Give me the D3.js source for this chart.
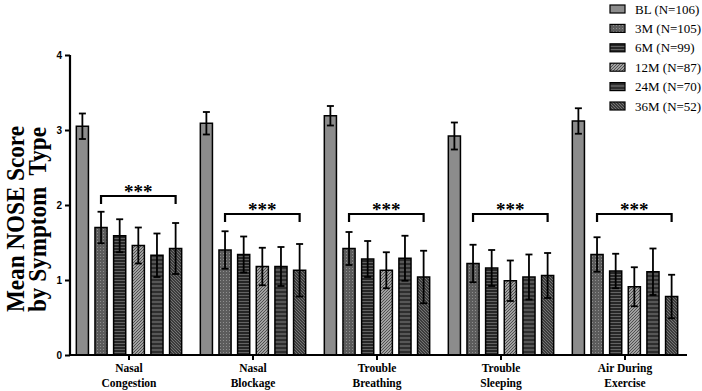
<!DOCTYPE html>
<html>
<head>
<meta charset="utf-8">
<script src="https://cdn.jsdelivr.net/npm/d3@7/dist/d3.min.js"></script>
<style>
  body { margin: 0; background: #fff; }
  svg { display: block; }
</style>
</head>
<body>
<div id="chart"></div>
<script>
// data
var symptoms = ["Nasal Congestion", "Nasal Blockage", "Trouble Breathing", "Trouble Sleeping", "Air During Exercise"];
var series   = ["BL (N=106)", "3M (N=105)", "6M (N=99)", "12M (N=87)", "24M (N=70)", "36M (N=52)"];

var bl  = [3.05, 3.09, 3.19, 2.92, 3.12];
var m3  = [1.70, 1.40, 1.42, 1.22, 1.34];
var m6  = [1.59, 1.34, 1.28, 1.16, 1.12];
var m12 = [1.46, 1.18, 1.13, 0.99, 0.91];
var m24 = [1.33, 1.18, 1.29, 1.04, 1.11];
var m36 = [1.42, 1.13, 1.04, 1.06, 0.78];

var blErr  = [0.17, 0.15, 0.13, 0.18, 0.17];
var m3Err  = [0.21, 0.25, 0.22, 0.25, 0.23];
var m6Err  = [0.22, 0.24, 0.24, 0.24, 0.23];
var m12Err = [0.24, 0.25, 0.24, 0.27, 0.26];
var m24Err = [0.29, 0.26, 0.30, 0.30, 0.31];
var m36Err = [0.34, 0.35, 0.35, 0.30, 0.29];

var bracketLevel = [2.12, 1.88, 1.88, 1.88, 1.88];
var yTicks = [0, 1, 2, 3, 4];

var means = [bl, m3, m6, m12, m24, m36];
var errs  = [blErr, m3Err, m6Err, m12Err, m24Err, m36Err];

var width  = 702;
var height = 391;

var svg = d3.select("#chart").append("svg")
    .attr("width", width)
    .attr("height", height);

// fill patterns, one per time point
var defs = svg.append("defs");
function linePattern(id, bg, fg, size, lines, sw) {
    var p = defs.append("pattern")
        .attr("id", id)
        .attr("patternUnits", "userSpaceOnUse")
        .attr("width", size).attr("height", size);
    p.append("rect").attr("width", size).attr("height", size).attr("fill", bg);
    lines.forEach(function (l) {
        p.append("line")
            .attr("x1", l[0]).attr("y1", l[1]).attr("x2", l[2]).attr("y2", l[3])
            .attr("stroke", fg).attr("stroke-width", sw);
    });
}
linePattern("p0", "#8c8c8c", "#8c8c8c", 4, [], 0);
// dots
var pd = defs.append("pattern").attr("id", "p1")
    .attr("patternUnits", "userSpaceOnUse").attr("width", 3).attr("height", 3);
pd.append("rect").attr("width", 3).attr("height", 3).attr("fill", "#5c5c5c");
pd.append("rect").attr("x", 1).attr("y", 1).attr("width", 1).attr("height", 1).attr("fill", "#8f8f8f");
linePattern("p2", "#262626", "#6a6a6a", 3, [[0, 1.5, 3, 1.5]], 0.9);
linePattern("p3", "#c4c4c4", "#4a4a4a", 3, [[-1, 4, 4, -1], [-1, 1, 1, -1], [2, 4, 4, 2]], 1.1);
linePattern("p4", "#2e2e2e", "#8a8a8a", 4, [[0, 2, 4, 2]], 0.9);
linePattern("p5", "#3c3c3c", "#7a7a7a", 3, [[-1, -1, 4, 4], [-1, 2, 1, 4], [2, -1, 4, 1]], 0.9);

// scales
var x0 = d3.scaleBand()
    .domain(symptoms)
    .range([67, 687])
    .padding(0);

var x1 = d3.scaleBand()
    .domain(d3.range(series.length))
    .range([0, x0.bandwidth()])
    .paddingInner(0.35)
    .paddingOuter(0.5);

var y = d3.scaleLinear()
    .domain([0, 4])
    .range([355, 55]);

var rows = [];
symptoms.forEach(function (s, i) {
    series.forEach(function (name, j) {
        rows.push({ sym: s, k: j, v: means[j][i], e: errs[j][i] });
    });
});

// bars
svg.append("g").selectAll("rect")
    .data(rows)
    .join("rect")
    .attr("x", function (d) { return x0(d.sym) + x1(d.k); })
    .attr("y", function (d) { return y(d.v); })
    .attr("width", x1.bandwidth())
    .attr("height", function (d) { return y(0) - y(d.v); })
    .attr("fill", function (d) { return "url(#p" + d.k + ")"; })
    .attr("stroke", "#000")
    .attr("stroke-width", 1.5);

// error bars
var eb = svg.append("g").attr("stroke", "#000").attr("stroke-width", 1.8);
rows.forEach(function (d) {
    var cx = x0(d.sym) + x1(d.k) + x1.bandwidth() / 2;
    eb.append("line").attr("x1", cx).attr("x2", cx).attr("y1", y(d.v + d.e)).attr("y2", y(d.v - d.e));
    eb.append("line").attr("x1", cx - 3.5).attr("x2", cx + 3.5).attr("y1", y(d.v + d.e)).attr("y2", y(d.v + d.e));
    eb.append("line").attr("x1", cx - 3.5).attr("x2", cx + 3.5).attr("y1", y(d.v - d.e)).attr("y2", y(d.v - d.e));
});

// significance brackets
var br = svg.append("g");
symptoms.forEach(function (s, i) {
    var xa = x0(s) + x1(1) + x1.bandwidth() / 2;
    var xb = x0(s) + x1(5) + x1.bandwidth() / 2;
    var by = y(bracketLevel[i]);
    br.append("path")
        .attr("d", "M" + xa + "," + (by + 8) + "V" + by + "H" + xb + "V" + (by + 8))
        .attr("fill", "none").attr("stroke", "#000").attr("stroke-width", 2.2);
    br.append("text")
        .attr("x", (xa + xb) / 2).attr("y", by + 2)
        .attr("text-anchor", "middle")
        .attr("font-family", "Liberation Serif, Times New Roman, serif")
        .attr("font-weight", "bold").attr("font-size", 19)
        .text("***");
});

// axes
var yAxis = d3.axisLeft(y).tickValues(yTicks).tickSize(5).tickPadding(3).tickFormat(d3.format("d"));
var gy = svg.append("g").attr("transform", "translate(70,0)").call(yAxis);
gy.select(".domain").attr("stroke-width", 2.2).attr("d", "M0,355V55");
gy.selectAll(".tick line").attr("stroke-width", 2);
gy.selectAll(".tick text")
    .attr("font-family", "Liberation Sans, Arial, sans-serif")
    .attr("font-weight", "bold").attr("font-size", 10).attr("fill", "#000");

var xAxis = d3.axisBottom(x0).tickSize(5).tickFormat("");
var gx = svg.append("g").attr("transform", "translate(0,355)").call(xAxis);
gx.select(".domain").attr("stroke-width", 2.2).attr("d", "M70,0H687");
gx.selectAll(".tick line").attr("stroke-width", 2);
gx.selectAll(".tick").each(function (d) {
    var words = d.split(" ");
    var l1 = words.length > 2 ? words.slice(0, 2).join(" ") : words[0];
    var l2 = words.length > 2 ? words.slice(2).join(" ") : words[1];
    var t = d3.select(this).append("text")
        .attr("fill", "#000")
        .attr("text-anchor", "middle")
        .attr("font-family", "Liberation Serif, Times New Roman, serif")
        .attr("font-weight", "bold").attr("font-size", 11.5);
    t.append("tspan").attr("x", 0).attr("y", 17).text(l1);
    t.append("tspan").attr("x", 0).attr("y", 32).text(l2);
});

// y title (glyphs in the original are tall and narrow)
var yt = svg.append("g")
    .attr("font-family", "Liberation Serif, Times New Roman, serif")
    .attr("font-weight", "bold").attr("font-size", 26).attr("fill", "#000");
yt.append("text").attr("transform", "translate(24,312) rotate(-90) scale(0.89,1)").text("Mean NOSE Score");
yt.append("text").attr("transform", "translate(46,312) rotate(-90) scale(0.89,1)").attr("xml:space", "preserve").text("by Symptom  Type");

// legend
var lg = svg.append("g");
series.forEach(function (name, j) {
    var ly = 9 + j * 19.4;
    lg.append("rect").attr("x", 610).attr("y", ly - 4).attr("width", 15).attr("height", 8)
        .attr("fill", "url(#p" + j + ")").attr("stroke", "#000").attr("stroke-width", 1.2);
    lg.append("text").attr("x", 635).attr("y", ly + 4.5)
        .attr("font-family", "Liberation Serif, Times New Roman, serif")
        .attr("font-size", 13).attr("fill", "#000")
        .text(name);
});
</script>
</body>
</html>
